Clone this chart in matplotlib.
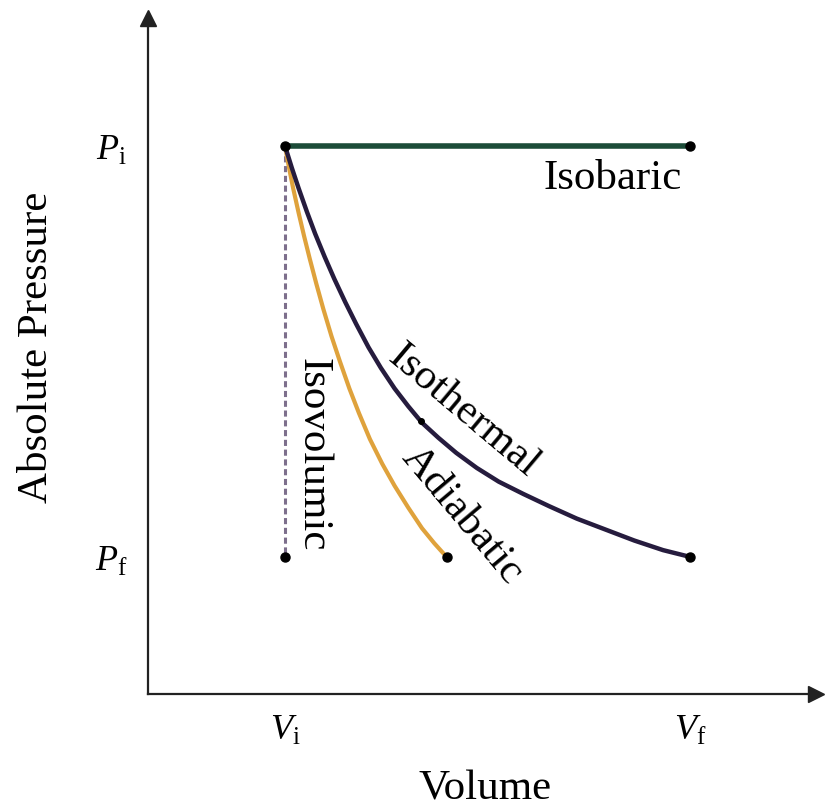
import numpy as np
import matplotlib
matplotlib.use("Agg")
import matplotlib.pyplot as plt

plt.rcParams['font.family'] = ['Liberation Serif', 'DejaVu Serif']
plt.rcParams['mathtext.fontset'] = 'custom'
plt.rcParams['mathtext.rm'] = 'Liberation Serif'
plt.rcParams['mathtext.it'] = 'Liberation Serif:italic'

# state values (arbitrary units)
V_i, V_f = 1.0, 3.96
P_i, P_f = 4.0, 1.0
V_adia_end = 2.18

# curves
iso_T_V = [1.00, 1.05, 1.10, 1.16, 1.22, 1.29, 1.36, 1.44, 1.52, 1.61, 1.70, 1.80, 1.90,
           2.00, 2.12, 2.25, 2.40, 2.56, 2.74, 2.93, 3.13, 3.34, 3.55, 3.76, 3.96]
iso_T_P = [4.00, 3.84, 3.69, 3.52, 3.36, 3.19, 3.03, 2.86, 2.70, 2.53, 2.38, 2.23, 2.10,
           1.98, 1.87, 1.76, 1.65, 1.55, 1.46, 1.37, 1.28, 1.20, 1.12, 1.05, 1.00]

adia_V = [1.00, 1.03, 1.06, 1.10, 1.14, 1.18, 1.23, 1.28, 1.34, 1.40, 1.47, 1.54, 1.62,
          1.71, 1.80, 1.90, 2.00, 2.09, 2.18]
adia_P = [4.00, 3.84, 3.69, 3.51, 3.34, 3.18, 2.99, 2.81, 2.61, 2.43, 2.23, 2.05, 1.86,
          1.68, 1.52, 1.36, 1.21, 1.10, 1.00]

fig = plt.figure(figsize=(8.29, 8.12), dpi=100)
ax = fig.add_axes([0.1785, 0.1441, 0.8058, 0.8325])
ax.set_xlim(0, 4.876)
ax.set_ylim(0, 4.934)

for s in ['top', 'right']:
    ax.spines[s].set_visible(False)
for s in ['left', 'bottom']:
    ax.spines[s].set_linewidth(1.6)
    ax.spines[s].set_color('#222222')
# arrow heads on the axes
ax.plot(1, 0, '>', color='#222222', ms=11, transform=ax.transAxes, clip_on=False)
ax.plot(0, 1, '^', color='#222222', ms=11, transform=ax.transAxes, clip_on=False)

# isovolumic (dashed), adiabatic, isothermal, isobaric
ax.plot([V_i, V_i], [P_i, P_f], color='#7d6f8c', lw=2.2, ls=(0, (2, 1.2)))
ax.plot(adia_V, adia_P, color='#dfa23c', lw=3.0, solid_capstyle='round')
ax.plot(iso_T_V, iso_T_P, color='#261c3e', lw=3.2, solid_capstyle='round')
ax.plot([V_i, V_f], [P_i, P_i], color='#1c4c38', lw=4.0)

# end points
ax.plot([V_i, V_f, V_i, V_adia_end, V_f], [P_i, P_i, P_f, P_f, P_f],
        'o', color='black', ms=6.5, zorder=5)
ax.plot([1.99], [1.99], 'o', color='black', ms=4, zorder=5)

fs = 31
ax.text(3.39, 3.77, 'Isobaric', fontsize=fs, ha='center', va='center')
ax.text(2.30, 2.07, 'Isothermal', fontsize=fs, ha='center', va='center', rotation=-40,
        rotation_mode='anchor')
ax.text(2.29, 1.31, 'Adiabatic', fontsize=fs, ha='center', va='center', rotation=-50,
        rotation_mode='anchor')
ax.text(1.20, 1.75, 'Isovolumic', fontsize=fs, ha='center', va='center', rotation=-90)

ax.set_xticks([V_i, V_f])
ax.set_xticklabels([r'$V_\mathrm{i}$', r'$V_\mathrm{f}$'], fontsize=26)
ax.set_yticks([P_i, P_f])
ax.set_yticklabels([r'$P_\mathrm{i}$', r'$P_\mathrm{f}$'], fontsize=26)
ax.tick_params(length=0)
ax.tick_params(axis='x', pad=14)
ax.tick_params(axis='y', pad=15)

fig.text(0.0446, 0.5727, 'Absolute Pressure', fontsize=31, rotation=90,
         ha='center', va='center')
fig.text(0.585, 0.028, 'Volume', fontsize=31, ha='center', va='center')

fig.savefig('out.png', dpi=100)
